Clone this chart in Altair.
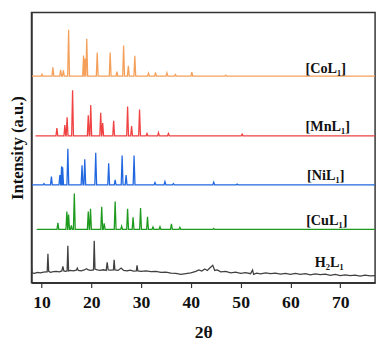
import altair as alt
import pandas as pd

# ---- data (2θ positions, peak heights above each trace's baseline) ----
series = ["[CoL₁]", "[MnL₁]", "[NiL₁]", "[CuL₁]", "H₂L₁"]
colors = ["#F5A05A", "#F04242", "#2168E0", "#1E9A1E", "#404040"]

co_range = [8.1, 77.0]
co_base = 211.0
co_pos = [10.1, 12.3, 13.85, 14.4, 15.45, 18.45, 18.75, 19.1, 21.2, 23.8, 25.15, 26.5,
          27.45, 28.75, 31.5, 32.9, 35.2, 36.9, 40.2, 47.0]
co_int = [2, 9, 6.5, 6, 47.3, 21, 18, 38.3, 24, 24, 4.7, 31.3,
          10.5, 20.7, 3, 3.7, 3.3, 1.7, 4, 1]

mn_range = [8.8, 77.0]
mn_base = 150.0
mn_pos = [13.1, 14.7, 15.15, 16.25, 19.4, 19.9, 21.9, 22.3, 24.5, 27.3, 28.1, 29.7,
          31.2, 33.5, 35.5, 50.3]
mn_int = [8, 11, 19, 46.5, 21, 31.5, 23.5, 13, 15.5, 30, 10, 27,
          2.3, 3.3, 2.3, 1.7]

ni_range = [8.1, 77.0]
ni_base = 100.0
ni_pos = [10.5, 12.0, 13.7, 14.05, 14.25, 15.3, 18.15, 18.7, 20.9, 23.5, 24.8, 26.2,
          27.0, 28.6, 32.8, 34.8, 36.5, 44.6, 49.3]
ni_int = [1.3, 8.3, 10, 19, 18, 36.7, 20, 26, 32.7, 22, 5, 30,
          10, 30, 2.3, 3.3, 1.3, 2.7, 0.8]

cu_range = [9.05, 77.0]
cu_base = 54.5
cu_pos = [13.3, 15.1, 15.45, 16.0, 16.6, 19.4, 19.85, 22.1, 22.6, 24.8, 26.1, 27.3,
          28.4, 29.9, 31.3, 32.4, 33.8, 36.1, 37.8, 44.6]
cu_int = [6.7, 18.3, 15, 4, 36.7, 18.3, 21, 23, 6, 28.3, 3.3, 21,
          12.3, 21.7, 12.7, 2.3, 2.7, 5.7, 2, 1]

# H2L1: noisy pattern, explicit points
h2_x = [7.95, 8.1, 8.6, 9.2, 9.8, 10.4, 11.0, 11.15, 11.3, 11.45, 11.8, 12.4, 13.0, 13.6,
        14.1, 14.3, 14.5, 14.8, 15.15, 15.3, 15.45, 15.8, 16.4, 17.0, 17.2, 17.4, 18.0,
        18.6, 19.05, 19.4, 19.9, 20.45, 20.6, 20.75, 21.2, 21.8, 22.4, 23.0, 23.2, 23.4,
        24.0, 24.45, 24.6, 24.75, 25.4, 26.0, 26.5, 27.2, 27.8, 28.5, 29.05, 29.2, 29.35,
        30.0, 31.0, 32.0, 33.0, 34.0, 35.0, 36.0, 37.0, 38.0, 39.0, 40.0, 41.0, 41.6,
        42.2, 42.8, 43.3, 43.8, 44.4, 44.8, 45.3, 46.0, 47.0, 48.0, 49.0, 50.0, 51.0,
        52.0, 52.4, 52.6, 53.2, 54.0, 55.0, 56.0, 57.0, 58.0, 59.0, 60.0, 61.0, 62.0,
        63.0, 64.0, 65.0, 66.0, 67.0, 68.0, 69.0, 70.0, 71.0, 72.0, 73.0, 74.0, 75.0,
        76.0, 77.0]
h2_y = [18, 10, 9.5, 10.5, 10, 10.8, 11, 11, 29.5, 11.5, 10.5, 11.2, 11.5, 11,
        12, 16.7, 12, 11.5, 12, 37.7, 12, 12.5, 12, 12.8, 15, 12.5, 12,
        13, 14.3, 13, 12.5, 13, 42.7, 14, 13, 12.5, 13.2, 12.5, 20.7, 13,
        12.8, 13, 23.3, 13, 12.5, 15, 12.5, 12, 12.8, 11.8, 12, 17.7, 12,
        11.5, 12, 11.2, 11.5, 10.5, 10.8, 9.8, 9.5, 8.5, 9.2, 10, 11.5, 13,
        11.8, 14, 12.5, 15, 17.7, 12.5, 13, 11, 11.5, 10, 10.8, 9.5, 10.2,
        9.2, 13, 8.5, 9.8, 9, 10, 9.2, 9.8, 8.8, 9.6, 8.6, 9.4, 8.5,
        9.2, 8, 9, 8.2, 8.8, 7.5, 8.4, 7.2, 8, 7.1, 7.8, 6.8, 7.6,
        6.9, 7.2]

label_x = [67.1, 67.5, 67.1, 67.3, 67.8]
label_y = [214.0, 155.0, 105.0, 58.5, 16.0]

# ---- build table ----
rows = []


def add_trace(name, rng, base, pos, inten):
    pts = [(rng[0], base), (rng[1], base)]
    for p, h in zip(pos, inten):
        pts += [(p - 0.18, base), (p, base + h), (p + 0.18, base)]
    pts.sort()
    for i, (x, y) in enumerate(pts):
        rows.append({"s": name, "x": x, "y": y, "o": i})


add_trace(series[0], co_range, co_base, co_pos, co_int)
add_trace(series[1], mn_range, mn_base, mn_pos, mn_int)
add_trace(series[2], ni_range, ni_base, ni_pos, ni_int)
add_trace(series[3], cu_range, cu_base, cu_pos, cu_int)
for i, (x, y) in enumerate(zip(h2_x, h2_y)):
    rows.append({"s": series[4], "x": x, "y": y, "o": i})

df = pd.DataFrame(rows)
lab = pd.DataFrame({"s": series, "x": label_x, "y": label_y})

FONT = "Liberation Serif"

x_enc = alt.X(
    "x:Q",
    scale=alt.Scale(domain=[8, 77], nice=False, zero=False),
    axis=alt.Axis(
        values=list(range(10, 80, 5)),
        labelExpr="datum.value % 10 === 0 ? datum.label : ''",
        tickSize={"condition": {"test": "datum.value % 10 === 0", "value": 5}, "value": 3},
        title="2θ",
        grid=False,
        labelPadding=6,
        titlePadding=13,
        titleFontSize=18,
    ),
)
y_enc = alt.Y(
    "y:Q",
    scale=alt.Scale(domain=[0, 276], nice=False, zero=False),
    axis=alt.Axis(labels=False, ticks=False, grid=False, title="Intensity (a.u.)",
                  titlePadding=5, titleFontSize=17),
)

lines = alt.Chart(df).mark_line(strokeWidth=1.3, clip=True).encode(
    x=x_enc,
    y=y_enc,
    order="o:Q",
    color=alt.Color("s:N", scale=alt.Scale(domain=series, range=colors), legend=None),
)

texts = alt.Chart(lab).mark_text(
    font=FONT, fontWeight="bold", fontSize=14.5, align="center", baseline="alphabetic",
    color="#111111",
).encode(x="x:Q", y="y:Q", text="s:N")

chart = (
    alt.layer(lines, texts)
    .properties(
        width=351,
        height=276,
        autosize=alt.AutoSizeParams(type="none"),
        padding={"left": 24, "top": 1, "right": 4, "bottom": 57},
    )
    .configure_view(stroke="#333333", strokeWidth=1.5)
    .configure_axis(
        domainColor="#333333",
        domainWidth=1.5,
        tickColor="#333333",
        tickWidth=1.2,
        labelFont=FONT,
        labelFontWeight="bold",
        labelFontSize=18,
        labelColor="#111111",
        titleFont=FONT,
        titleFontWeight="bold",
        titleColor="#111111",
    )
)

chart.save("out.html", embed_options={"renderer": "svg", "actions": False})
